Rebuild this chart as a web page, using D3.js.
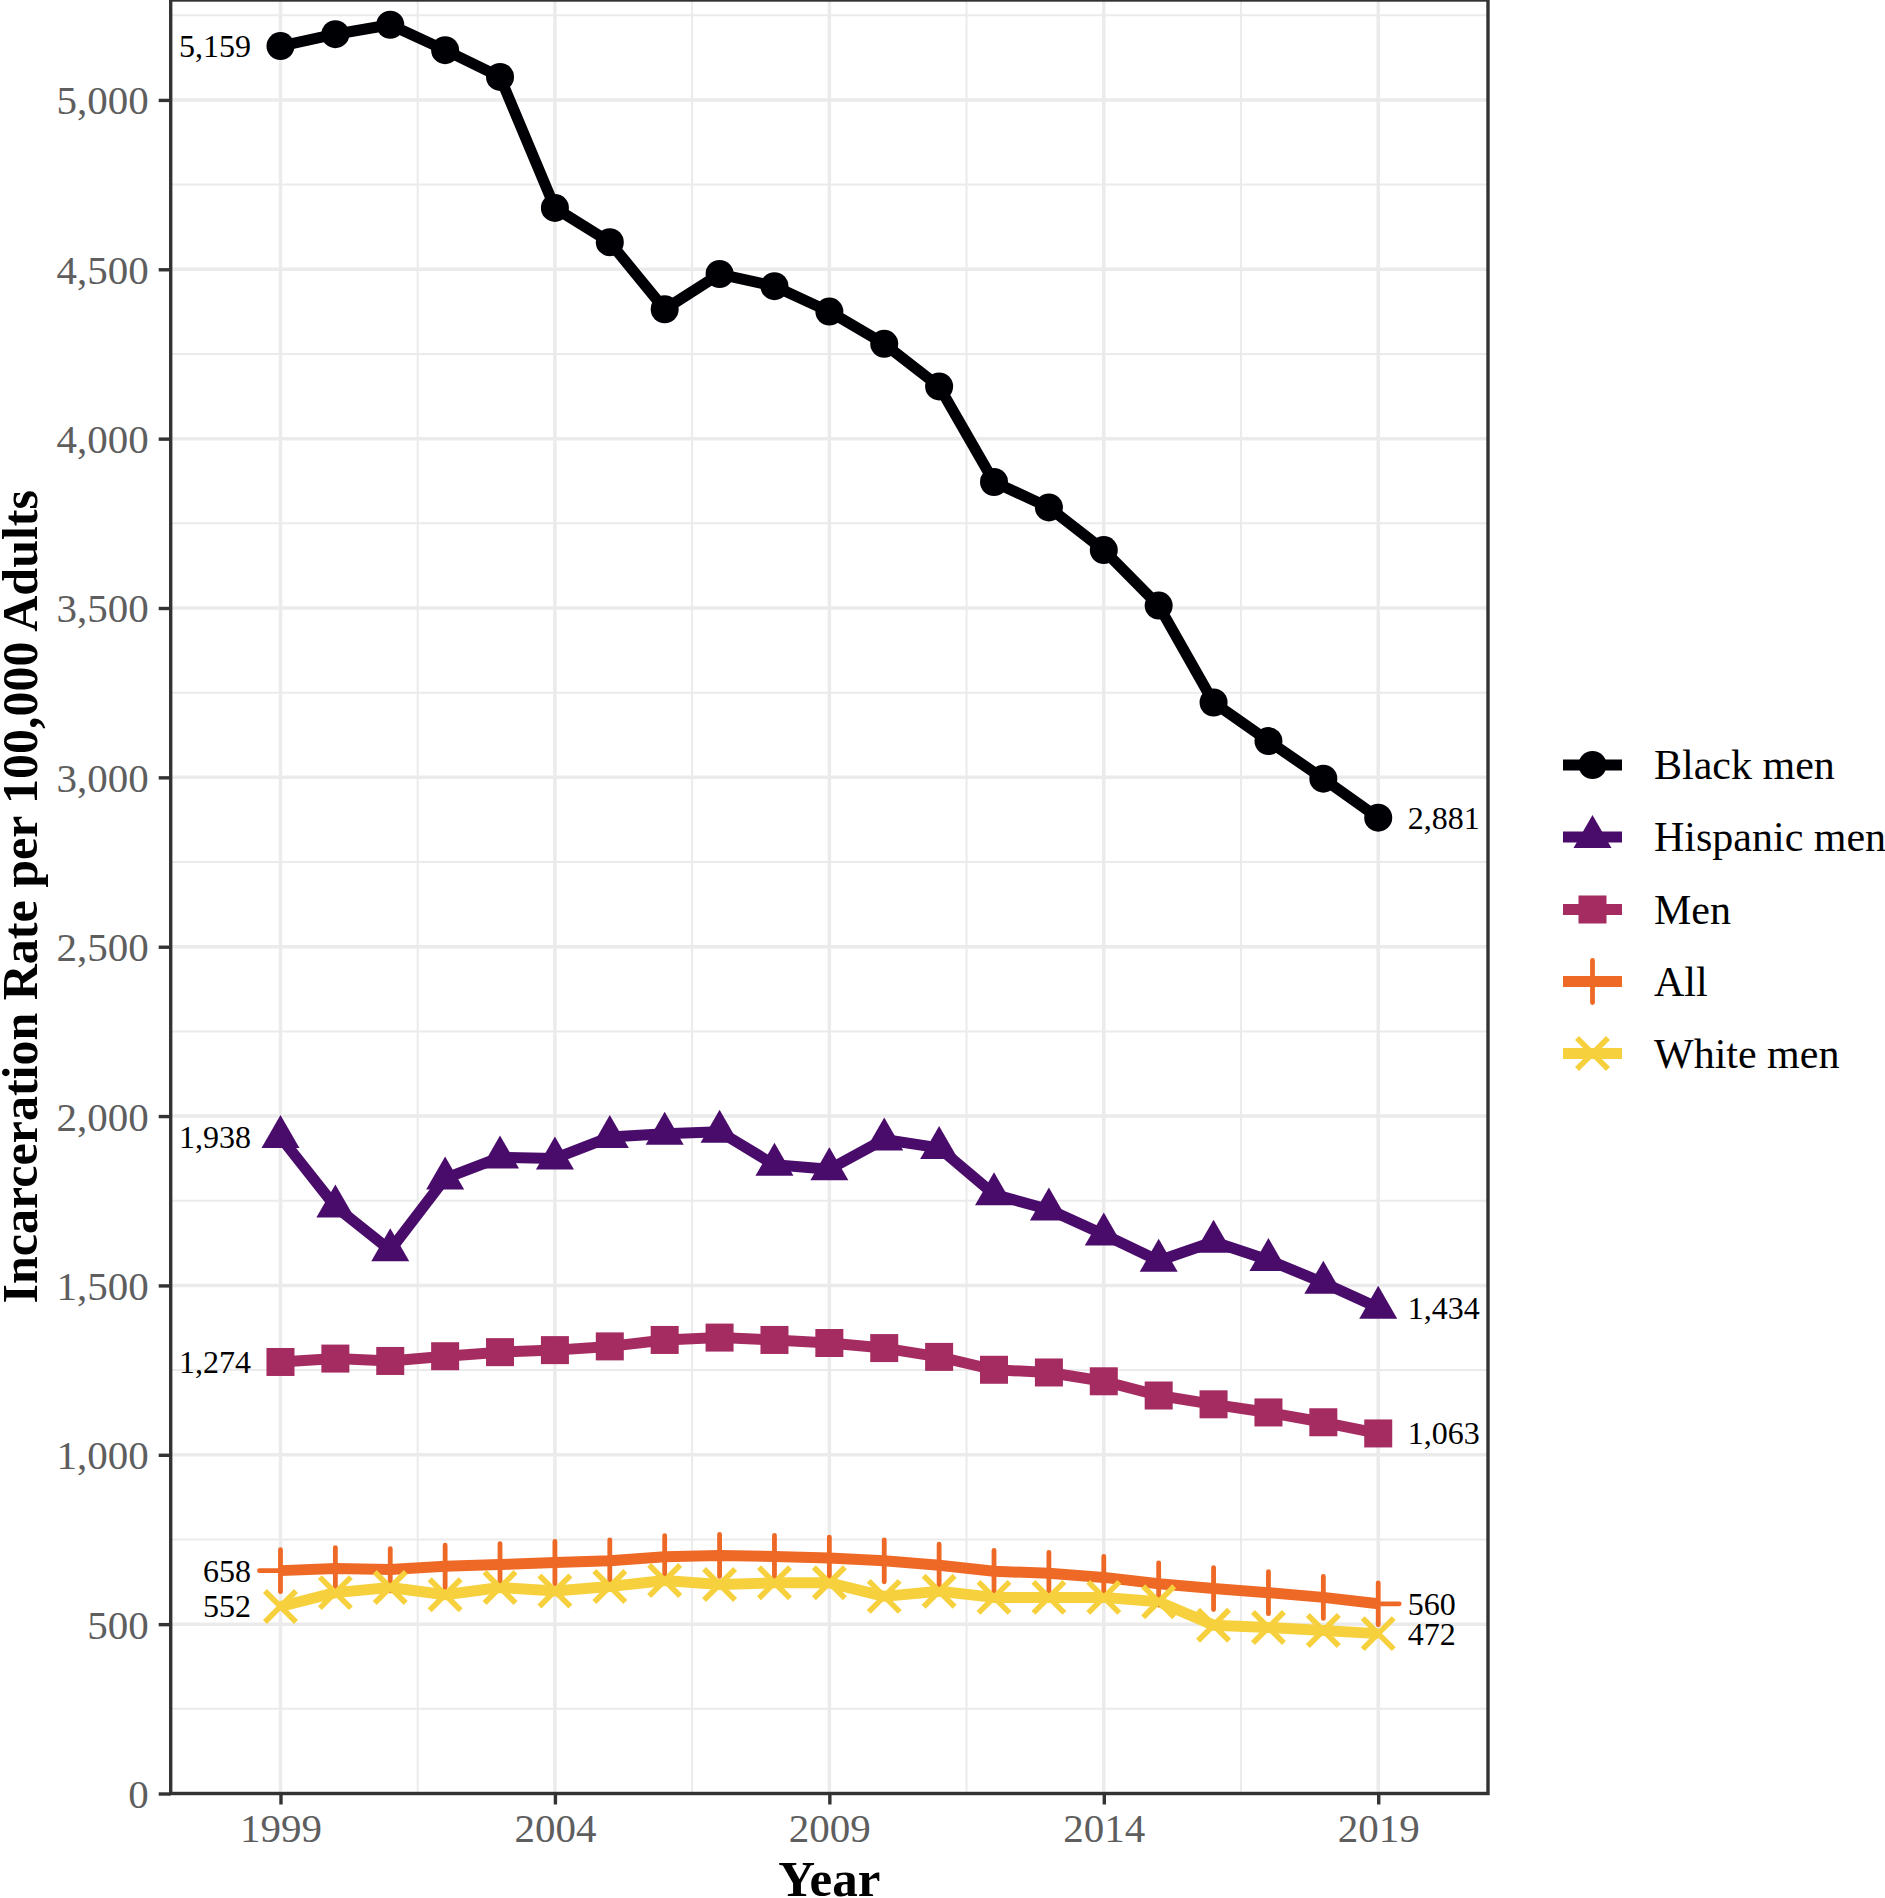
<!DOCTYPE html>
<html>
<head>
<meta charset="utf-8">
<script src="https://cdn.jsdelivr.net/npm/d3@7"></script>
<style>
  html, body { margin: 0; padding: 0; background: #fff; }
  svg { display: block; font-family: "Liberation Serif", "Times New Roman", serif; }
</style>
</head>
<body>
<svg id="chart" width="1885" height="1898"></svg>
<script>
// ---------------- data ----------------
const years = [1999, 2000, 2001, 2002, 2003, 2004, 2005, 2006, 2007, 2008, 2009,
               2010, 2011, 2012, 2013, 2014, 2015, 2016, 2017, 2018, 2019];
const seriesNames = ["Black men", "Hispanic men", "Men", "All", "White men"];
const blackMen    = [5159, 5194, 5222, 5147, 5068, 4681, 4580, 4382, 4486, 4450, 4375,
                     4280, 4154, 3872, 3797, 3671, 3507, 3221, 3107, 2996, 2881];
const hispanicMen = [1938, 1733, 1604, 1816, 1878, 1875, 1938, 1948, 1954, 1856, 1843,
                     1931, 1906, 1769, 1724, 1650, 1573, 1629, 1575, 1508, 1434];
const men         = [1274, 1284, 1277, 1291, 1303, 1309, 1320, 1339, 1346, 1339, 1330,
                     1315, 1289, 1251, 1243, 1217, 1175, 1149, 1125, 1096, 1063];
const allAdults   = [658, 664, 661, 671, 676, 682, 687, 699, 703, 700, 695,
                     687, 674, 656, 650, 638, 619, 605, 593, 579, 560];
const whiteMen    = [552, 593, 608, 587, 608, 598, 611, 629, 617, 622, 622,
                     582, 597, 579, 579, 579, 566, 497, 490, 481, 472];
const xTicks = [1999, 2004, 2009, 2014, 2019];
const xMinor = [2001.5, 2006.5, 2011.5, 2016.5];
const yTicks = [0, 500, 1000, 1500, 2000, 2500, 3000, 3500, 4000, 4500, 5000];
const yMinor = [250, 750, 1250, 1750, 2250, 2750, 3250, 3750, 4250, 4750, 5250];
const colors = ["#000004", "#4A0C6B", "#A52C60", "#ED6925", "#F7D13D"];
const shapes = ["circle", "triangle", "square", "plus", "cross"];
const xTitle = "Year";
const yTitle = "Incarceration Rate per 100,000 Adults";

const seriesValues = [blackMen, hispanicMen, men, allAdults, whiteMen];
const series = seriesNames.map((name, i) => ({
  name, color: colors[i], shape: shapes[i],
  values: years.map((yr, j) => ({ year: yr, value: seriesValues[i][j] }))
}));

// ---------------- layout ----------------
const svg = d3.select("#chart");
const panel = { left: 170.7, right: 1488, top: 0, bottom: 1793.5 };
const x = d3.scaleLinear().domain([1997, 2021]).range([panel.left, panel.right]);
const y = d3.scaleLinear().domain([0, 5295]).range([panel.bottom, panel.top]);
const fmt = d3.format(",");

// gridlines
const grid = svg.append("g");
grid.selectAll(".ymin").data(yMinor).join("line")
  .attr("x1", panel.left).attr("x2", panel.right)
  .attr("y1", d => y(d)).attr("y2", d => y(d))
  .attr("stroke", "#ebebeb").attr("stroke-width", 2);
grid.selectAll(".xmin").data(xMinor).join("line")
  .attr("y1", panel.top).attr("y2", panel.bottom)
  .attr("x1", d => x(d)).attr("x2", d => x(d))
  .attr("stroke", "#ebebeb").attr("stroke-width", 2);
grid.selectAll(".ymaj").data(yTicks).join("line")
  .attr("x1", panel.left).attr("x2", panel.right)
  .attr("y1", d => y(d)).attr("y2", d => y(d))
  .attr("stroke", "#ebebeb").attr("stroke-width", 3.5);
grid.selectAll(".xmaj").data(xTicks).join("line")
  .attr("y1", panel.top).attr("y2", panel.bottom)
  .attr("x1", d => x(d)).attr("x2", d => x(d))
  .attr("stroke", "#ebebeb").attr("stroke-width", 3.5);

// lines
const line = d3.line().x(d => x(d.year)).y(d => y(d.value));
const lines = svg.append("g");
series.forEach(s => {
  lines.append("path").datum(s.values)
    .attr("d", line).attr("fill", "none")
    .attr("stroke", s.color).attr("stroke-width", 11)
    .attr("stroke-linejoin", "round").attr("stroke-linecap", "butt");
});

// marker drawing
function drawMarker(g, shape, color) {
  if (shape === "circle") {
    g.append("circle").attr("r", 14).attr("fill", color);
  } else if (shape === "triangle") {
    g.append("path").attr("d", "M0,-22L19,11L-19,11Z").attr("fill", color);
  } else if (shape === "square") {
    g.append("rect").attr("x", -14).attr("y", -14).attr("width", 28).attr("height", 28).attr("fill", color);
  } else if (shape === "plus") {
    g.append("path").attr("d", "M-21,0H21M0,-21V21")
      .attr("stroke", color).attr("stroke-width", 4.8).attr("stroke-linecap", "round").attr("fill", "none");
  } else if (shape === "cross") {
    g.append("path").attr("d", "M-15.5,-15.5L15.5,15.5M-15.5,15.5L15.5,-15.5")
      .attr("stroke", color).attr("stroke-width", 5.6).attr("stroke-linecap", "butt").attr("fill", "none");
  }
}

const points = svg.append("g");
series.forEach(s => {
  s.values.forEach(d => {
    const g = points.append("g").attr("transform", `translate(${x(d.year)},${y(d.value)})`);
    drawMarker(g, s.shape, s.color);
  });
});

// end labels
const labels = svg.append("g").attr("font-size", 32).attr("fill", "#000");
series.forEach(s => {
  const first = s.values[0], last = s.values[s.values.length - 1];
  labels.append("text").attr("x", x(first.year) - 29.5).attr("y", y(first.value))
    .attr("dy", "0.34em").attr("text-anchor", "end").text(fmt(first.value));
  labels.append("text").attr("x", x(last.year) + 29.5).attr("y", y(last.value))
    .attr("dy", "0.34em").attr("text-anchor", "start").text(fmt(last.value));
});

// panel border
svg.append("rect").attr("x", panel.left).attr("y", panel.top)
  .attr("width", panel.right - panel.left).attr("height", panel.bottom - panel.top)
  .attr("fill", "none").attr("stroke", "#333").attr("stroke-width", 3.4);

// axes
const yAxis = svg.append("g").attr("transform", `translate(${panel.left},0)`)
  .call(d3.axisLeft(y).tickValues(yTicks).tickFormat(fmt).tickSize(12).tickSizeOuter(0).tickPadding(10));
const xAxis = svg.append("g").attr("transform", `translate(0,${panel.bottom})`)
  .call(d3.axisBottom(x).tickValues(xTicks).tickFormat(d3.format("d")).tickSize(11).tickSizeOuter(0).tickPadding(8));
[yAxis, xAxis].forEach(a => {
  a.select(".domain").remove();
  a.selectAll(".tick line").attr("stroke", "#333").attr("stroke-width", 3.4);
  a.selectAll(".tick text").attr("font-size", 41).attr("fill", "#5e5e5e")
    .attr("font-family", "Liberation Serif");
});
yAxis.selectAll(".tick text").attr("dy", "0.34em");
xAxis.selectAll(".tick text").attr("dy", "0.72em");

// axis titles
svg.append("text").attr("x", x(2009)).attr("y", 1896)
  .attr("text-anchor", "middle").attr("font-size", 51).attr("font-weight", "bold")
  .text(xTitle);
svg.append("text")
  .attr("transform", `translate(37,${(panel.top + panel.bottom) / 2}) rotate(-90)`)
  .attr("text-anchor", "middle").attr("font-size", 50).attr("font-weight", "bold")
  .text(yTitle);

// legend
const legend = svg.append("g");
const legendRows = [765, 837, 909.5, 981.5, 1053.5];
series.forEach((s, i) => {
  const g = legend.append("g").attr("transform", `translate(0,${legendRows[i]})`);
  g.append("line").attr("x1", 1563).attr("x2", 1622).attr("y1", 0).attr("y2", 0)
    .attr("stroke", s.color).attr("stroke-width", 11);
  const m = g.append("g").attr("transform", "translate(1592.5,0)");
  drawMarker(m, s.shape, s.color);
  g.append("text").attr("x", 1654).attr("y", 0).attr("dy", "0.34em")
    .attr("font-size", 42).attr("fill", "#000").text(s.name);
});
</script>
</body>
</html>
